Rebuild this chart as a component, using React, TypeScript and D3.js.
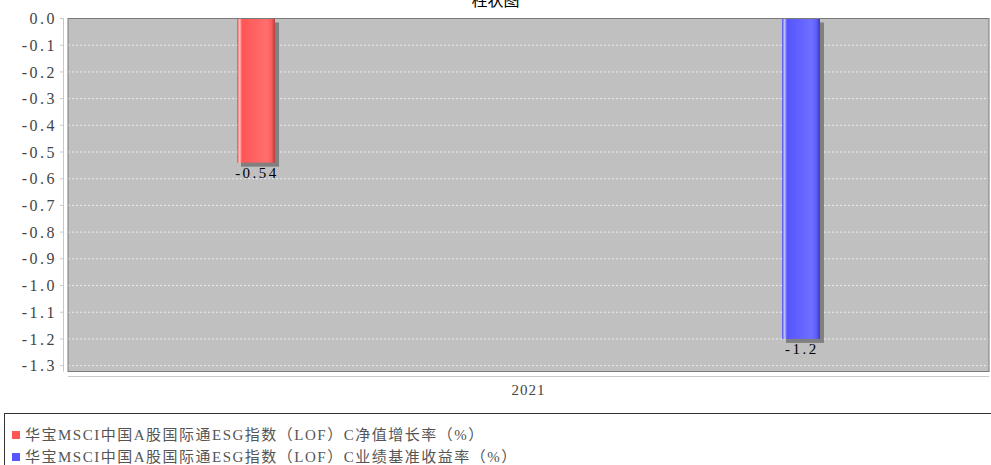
import React from "react";
import * as d3 from "d3";

const title = "柱状图";
const categories = ["2021"];
const seriesNames = [
  "华宝MSCI中国A股国际通ESG指数（LOF）C净值增长率（%）",
  "华宝MSCI中国A股国际通ESG指数（LOF）C业绩基准收益率（%）",
];
const seriesValues = [-0.54, -1.2];
const valueLabels = ["-0.54", "-1.2"];
const seriesColors = ["#ff5555", "#5555ff"];
const yTicks = [0, -0.1, -0.2, -0.3, -0.4, -0.5, -0.6, -0.7, -0.8, -0.9, -1.0, -1.1, -1.2, -1.3];

const W = 991;
const H = 465;
const plot = { left: 68, right: 989, top: 18.5, bottom: 371.5 };
const numFont = "'Liberation Serif', 'Noto Sans CJK SC', serif";

function shade(c: string, k: number) {
  const col = d3.rgb(c);
  return k >= 0 ? d3.interpolateRgb(col, "#ffffff")(k) : d3.interpolateRgb(col, "#000000")(-k);
}

export default function App() {
  const y = d3.scaleLinear().domain([-1.322, 0]).range([plot.bottom, plot.top]);
  const xCat = d3.scaleBand<string>().domain(categories).range([plot.left, plot.right]).padding(0);
  const xSer = d3
    .scalePoint<string>()
    .domain(seriesNames)
    .range([xCat(categories[0])!, xCat(categories[0])! + xCat.bandwidth()])
    .padding(0.345);
  const barW = 38;

  return (
    <svg width={W} height={H} style={{ position: "absolute", left: 0, top: 0, background: "#fff" }}>
      <defs>
        {seriesColors.map((c, i) => (
          <linearGradient key={i} id={`g${i}`} x1="0" x2="1" y1="0" y2="0">
            <stop offset="0" stopColor={shade(c, -0.08)} />
            <stop offset="0.07" stopColor={shade(c, 0.65)} />
            <stop offset="0.13" stopColor={c} />
            <stop offset="0.78" stopColor={shade(c, 0.15)} />
            <stop offset="0.9" stopColor={shade(c, 0.05)} />
            <stop offset="1" stopColor={shade(c, -0.3)} />
          </linearGradient>
        ))}
      </defs>

      {/* title (clipped at top) */}
      <text x={W / 2} y={6} textAnchor="middle" fontSize={16} fontFamily="'Noto Sans CJK SC', sans-serif" fill="#000">
        {title}
      </text>

      {/* plot background */}
      <rect x={plot.left} y={plot.top} width={plot.right - plot.left} height={plot.bottom - plot.top} fill="#c0c0c0" />

      {/* gridlines */}
      {yTicks.map((t) => (
        <line
          key={t}
          x1={plot.left}
          x2={plot.right}
          y1={y(t)}
          y2={y(t)}
          stroke="#ececec"
          strokeWidth={1}
          strokeDasharray="2 2"
        />
      ))}

      {/* bars */}
      {seriesNames.map((s, i) => {
        const cx = xSer(s)!;
        const y0 = y(0);
        const y1 = y(seriesValues[i]);
        return (
          <g key={s}>
            <rect x={cx - barW / 2 + 4} y={y0 + 4} width={barW} height={y1 - y0} fill="#808080" />
            <rect x={cx - barW / 2} y={y0} width={barW} height={y1 - y0} fill={`url(#g${i})`} />
            <text
              x={cx + 1}
              y={y1 + 15}
              textAnchor="middle"
              fontSize={15}
              fontFamily={numFont}
              letterSpacing={2.5}
              fill="#000"
            >
              {valueLabels[i]}
            </text>
          </g>
        );
      })}

      {/* plot outline */}
      <rect
        x={plot.left}
        y={plot.top}
        width={plot.right - plot.left}
        height={plot.bottom - plot.top}
        fill="none"
        stroke="#7a7a7a"
        strokeWidth={1}
      />

      {/* y axis */}
      <line x1={63.5} x2={63.5} y1={plot.top} y2={plot.bottom} stroke="#c8c8c8" />
      {yTicks.map((t) => (
        <g key={t}>
          <line x1={60} x2={63.5} y1={y(t)} y2={y(t)} stroke="#c8c8c8" />
          <text
            x={57}
            y={y(t)}
            dy="0.35em"
            textAnchor="end"
            fontSize={16}
            fontFamily={numFont}
            letterSpacing={2.5}
            fill="#444"
          >
            {d3.format(".1f")(t).replace("−", "-")}
          </text>
        </g>
      ))}

      {/* category axis */}
      <line x1={plot.left} x2={plot.right} y1={376.5} y2={376.5} stroke="#c8c8c8" />
      {categories.map((c) => (
        <text
          key={c}
          x={xCat(c)! + xCat.bandwidth() / 2}
          y={395}
          textAnchor="middle"
          fontSize={15}
          fontFamily={numFont}
          letterSpacing={1}
          fill="#444"
        >
          {c}
        </text>
      ))}

      {/* legend */}
      <rect x={4.5} y={413.5} width={W} height={60} fill="#fff" stroke="#333" strokeWidth={1} />
      {seriesNames.map((s, i) => {
        const cy = 435 + i * 22;
        return (
          <g key={s}>
            <rect x={12} y={cy - 4} width={8} height={8} fill={seriesColors[i]} />
            <text
              x={25}
              y={cy}
              dy="0.36em"
              fontSize={15}
              fontFamily={numFont}
              letterSpacing={1.5}
              fill="#555"
            >
              {s}
            </text>
          </g>
        );
      })}
    </svg>
  );
}
